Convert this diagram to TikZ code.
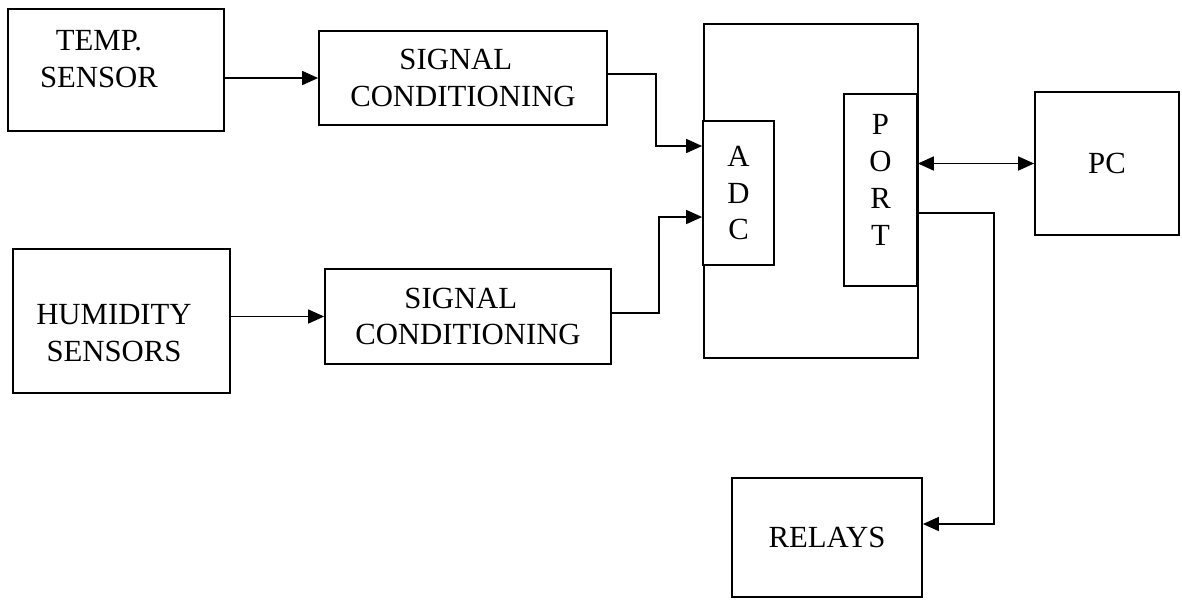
\documentclass[tikz,border=0pt]{standalone}
\usepackage{fontspec}
\setmainfont{Liberation Serif}
\usetikzlibrary{arrows.meta}
\newlength\px
\setlength\px{0.02cm}
\tikzset{
    blk/.style={draw, rectangle, line width=1pt, inner sep=0pt, align=center},
    txt/.style={inner sep=0pt, align=center},
    sig/.style={line width=0.9pt, -{Triangle[length=0.32cm,width=0.28cm]}},
    bisig/.style={line width=0.9pt, {Triangle[length=0.32cm,width=0.28cm]}-{Triangle[length=0.32cm,width=0.28cm]}}
}
\begin{document}
\begin{tikzpicture}[x=0.02cm, y=-0.02cm, font=\fontsize{17.5}{21}\selectfont]
    \useasboundingbox (0,0) rectangle (1182,600);

    % Sensors
    \node[blk, minimum width=216\px, minimum height=122\px] (temp) at (116,70) {};
    \node[txt] (templbl) at (99,59) {TEMP.\\SENSOR};
    \node[blk, minimum width=217\px, minimum height=144\px] (hum) at (121.5,321) {};
    \node[txt] (humlbl) at (114,333) {HUMIDITY\\SENSORS};

    % Signal conditioning
    \node[blk, align=left, minimum width=288\px, minimum height=94\px] (cond1) at (463,78) {\hspace*{1.6em}SIGNAL\\CONDITIONING};
    \node[blk, align=left, minimum width=286\px, minimum height=95\px] (cond2) at (468,316.5) {\hspace*{1.6em}SIGNAL\\CONDITIONING};

    % Controller with ADC and port
    \node[blk, minimum width=214\px, minimum height=334\px] (mcu) at (811,191) {};
    \node[blk, fill=white, minimum width=71\px, minimum height=144\px] (adc) at (738.5,193) {A\\D\\C};
    \node[blk, fill=white, minimum width=73\px, minimum height=192\px] (port) at (880.5,190) {};
    \node[txt] (portlbl) at ([yshift=10\px]port.center) {P\\O\\R\\T};

    % Outputs
    \node[blk, minimum width=144\px, minimum height=143\px] (pc) at (1107,163.5) {PC};
    \node[blk, minimum width=190\px, minimum height=119\px] (relays) at (827,537.5) {RELAYS};

    % Connections
    \draw[sig] (temp.east |- cond1.west) -- (cond1.west);
    \draw[sig] (hum.east |- cond2.west) -- (cond2.west);
    \draw[sig] ([yshift=4\px]cond1.east) -- ++(48,0) |- ([yshift=47\px]adc.west);
    \draw[sig] ([yshift=3.5\px]cond2.east) -- ++(47,0) |- ([yshift=-24\px]adc.west);
    \draw[bisig] (port.east |- pc.west) -- (pc.west);
    \draw[sig] ([yshift=-23\px]port.east) -- ++(76,0) |- ([yshift=13.5\px]relays.east);
\end{tikzpicture}
\end{document}
